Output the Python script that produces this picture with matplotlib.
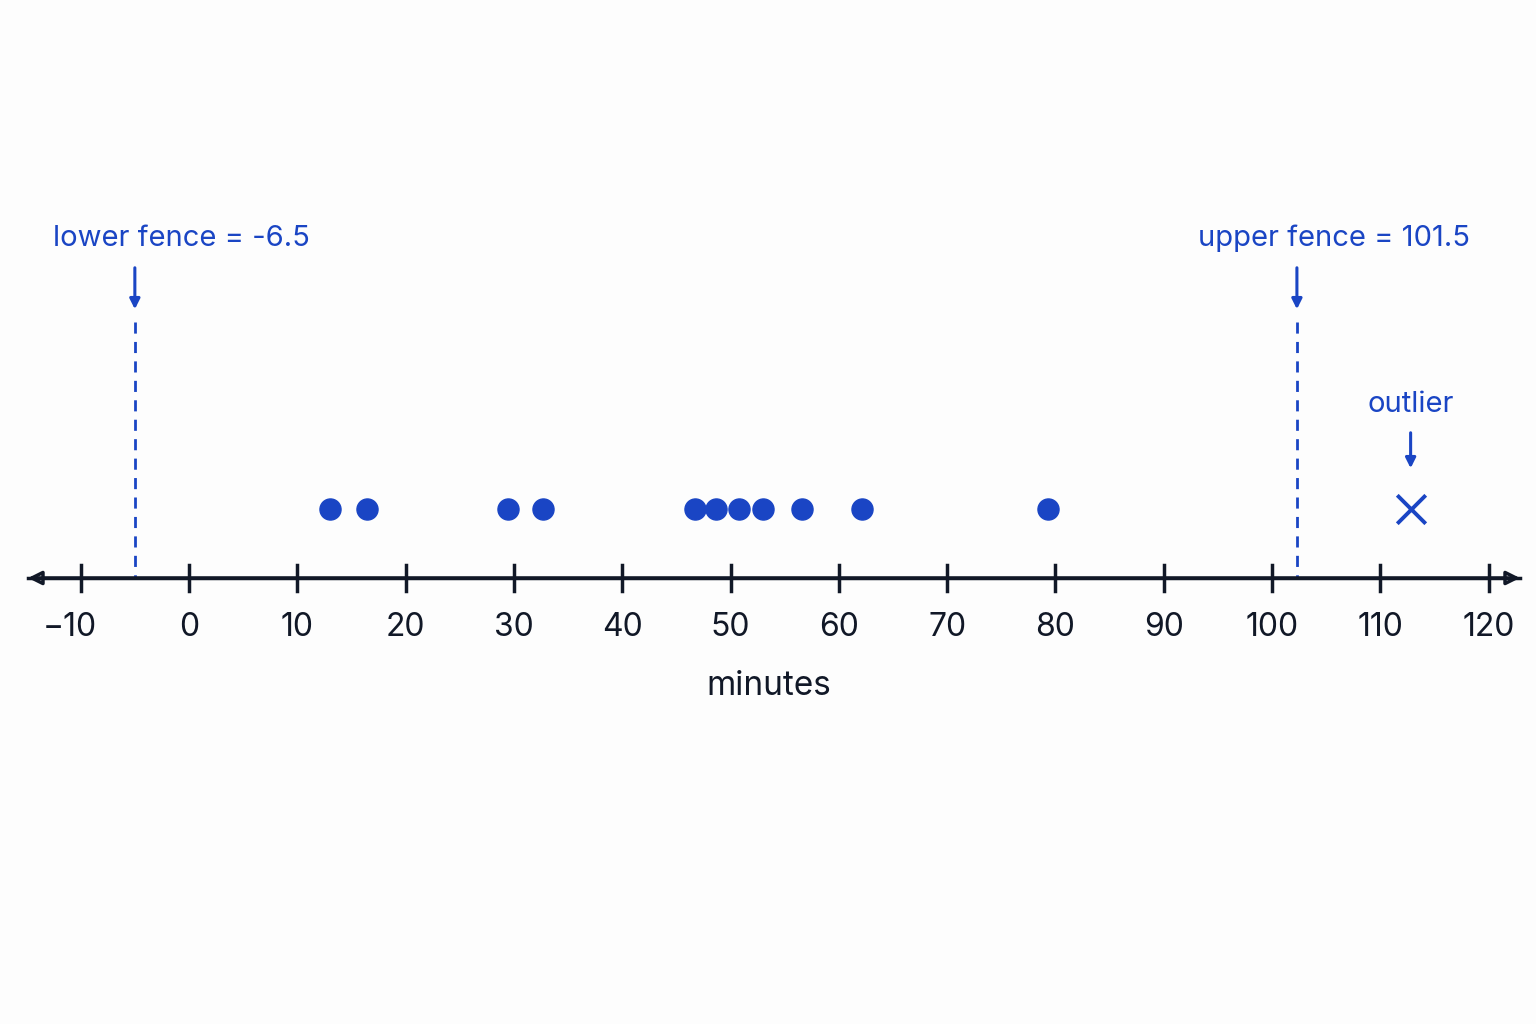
import matplotlib.pyplot as plt

# data (minutes)
dots = [13, 16.4, 29.5, 32.7, 46.7, 48.7, 50.8, 53, 56.6, 62.1, 79.3]
outlier = 112.8
lower_fence = -5.0   # drawn position
upper_fence = 102.3
ticks = list(range(-10, 121, 10))

BLUE = "#1a45c4"
DARK = "#111827"

fig = plt.figure(figsize=(15.36, 10.24), dpi=100, facecolor="#fdfdfd")
ax = fig.add_axes([0, 0, 1, 1])
ax.set_facecolor("#fdfdfd")
px = 10.83  # pixels per minute
ax.set_xlim(-189 / px, (1536 - 189) / px)
ax.set_ylim(1024, 0)
ax.axis("off")

axis_y = 578
ax.annotate("", xy=(1520 / px - 189 / px, axis_y), xytext=(28 / px - 189 / px, axis_y),
            arrowprops=dict(arrowstyle="<|-|>,head_length=0.8,head_width=0.4", color=DARK, lw=2.5,
                            fill=False, shrinkA=0, shrinkB=0))
ax.plot([28 / px - 189 / px, 1520 / px - 189 / px], [axis_y, axis_y], color=DARK, lw=2.5)
for t in ticks:
    ax.plot([t, t], [axis_y - 13, axis_y + 13], color=DARK, lw=2.5)
    ax.text(t - 1 if t < 0 else t, 628, f"{t}".replace("-", "\u2212"), ha="center", va="center",
            fontsize=23, color=DARK, family="Inter")
ax.text(53.5, 686, "minutes", ha="center", va="center", fontsize=24, color=DARK, family="Inter")

ax.scatter(dots, [509] * len(dots), s=230, color=BLUE, zorder=3)
ax.scatter([outlier], [509], marker="x", s=420, color=BLUE, linewidths=2.8, zorder=3)

for xv in (lower_fence, upper_fence):
    ax.plot([xv, xv], [322, axis_y], color=BLUE, lw=2, ls=(0, (4, 3)))
    ax.annotate("", xy=(xv, 312), xytext=(xv, 265),
                arrowprops=dict(arrowstyle="-|>,head_length=0.6,head_width=0.3", color=BLUE, lw=2.2))
ax.annotate("", xy=(outlier, 471), xytext=(outlier, 430),
            arrowprops=dict(arrowstyle="-|>,head_length=0.6,head_width=0.3", color=BLUE, lw=2.2))

ax.text(53 / px - 189 / px, 238, "lower fence = -6.5", ha="left", va="center", fontsize=21,
        color=BLUE, family="Inter")
ax.text(1470 / px - 189 / px, 238, "upper fence = 101.5", ha="right", va="center", fontsize=21,
        color=BLUE, family="Inter")
ax.text(outlier, 405, "outlier", ha="center", va="center", fontsize=21, color=BLUE, family="Inter")

fig.savefig("out.png", dpi=100, facecolor=fig.get_facecolor())
